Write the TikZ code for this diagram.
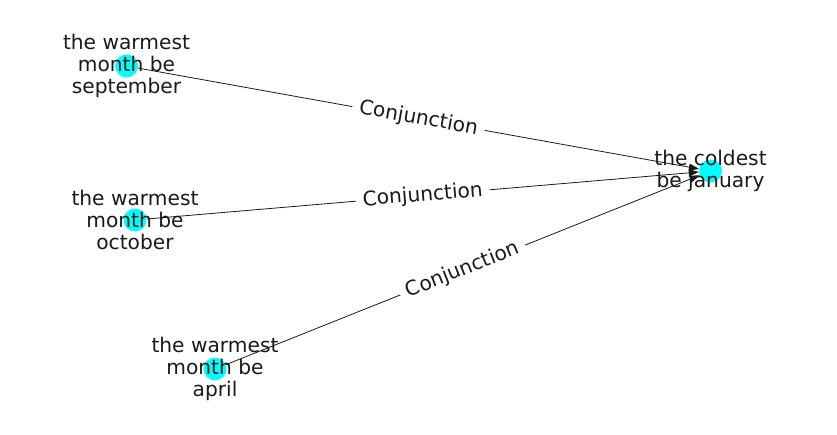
\documentclass[tikz,border=0pt]{standalone}
\usepackage{fontspec}
\setmainfont{DejaVu Sans}
\usetikzlibrary{arrows.meta}
\definecolor{nodecyan}{RGB}{0,255,255}
\definecolor{txt}{RGB}{26,26,26}
\begin{document}
\begin{tikzpicture}[x=1pt,y=1pt,
  dot/.style={circle,fill=nodecyan,draw=none,minimum size=23,inner sep=0},
  lbl/.style={align=center,font=\fontsize{20.2}{22}\selectfont,text=txt,inner sep=0},
  edge/.style={draw=txt,line width=0.8,-{Triangle[length=10,width=7]}},
  elbl/.style={sloped,fill=white,inner xsep=7,inner ysep=3,font=\fontsize{20.2}{22}\selectfont,text=txt}]
\useasboundingbox (0,0) rectangle (837,434);
\node[dot] (s) at (126.5,368) {};
\node[dot] (o) at (135,214) {};
\node[dot] (a) at (215,65) {};
\node[dot] (j) at (710.5,263) {};
\draw[edge] (s) -- node[elbl] {Conjunction} (j);
\draw[edge] (o) -- node[elbl] {Conjunction} (j);
\draw[edge] (a) -- node[elbl] {Conjunction} (j);
\node[lbl] (ls) at (126.5,368) {the warmest\\month be\\september};
\node[lbl] (lo) at (135,214) {the warmest\\month be\\october};
\node[lbl] (la) at (215,65) {the warmest\\month be\\april};
\node[lbl] (lj) at (710.5,263) {the coldest\\be january};
\end{tikzpicture}
\end{document}
